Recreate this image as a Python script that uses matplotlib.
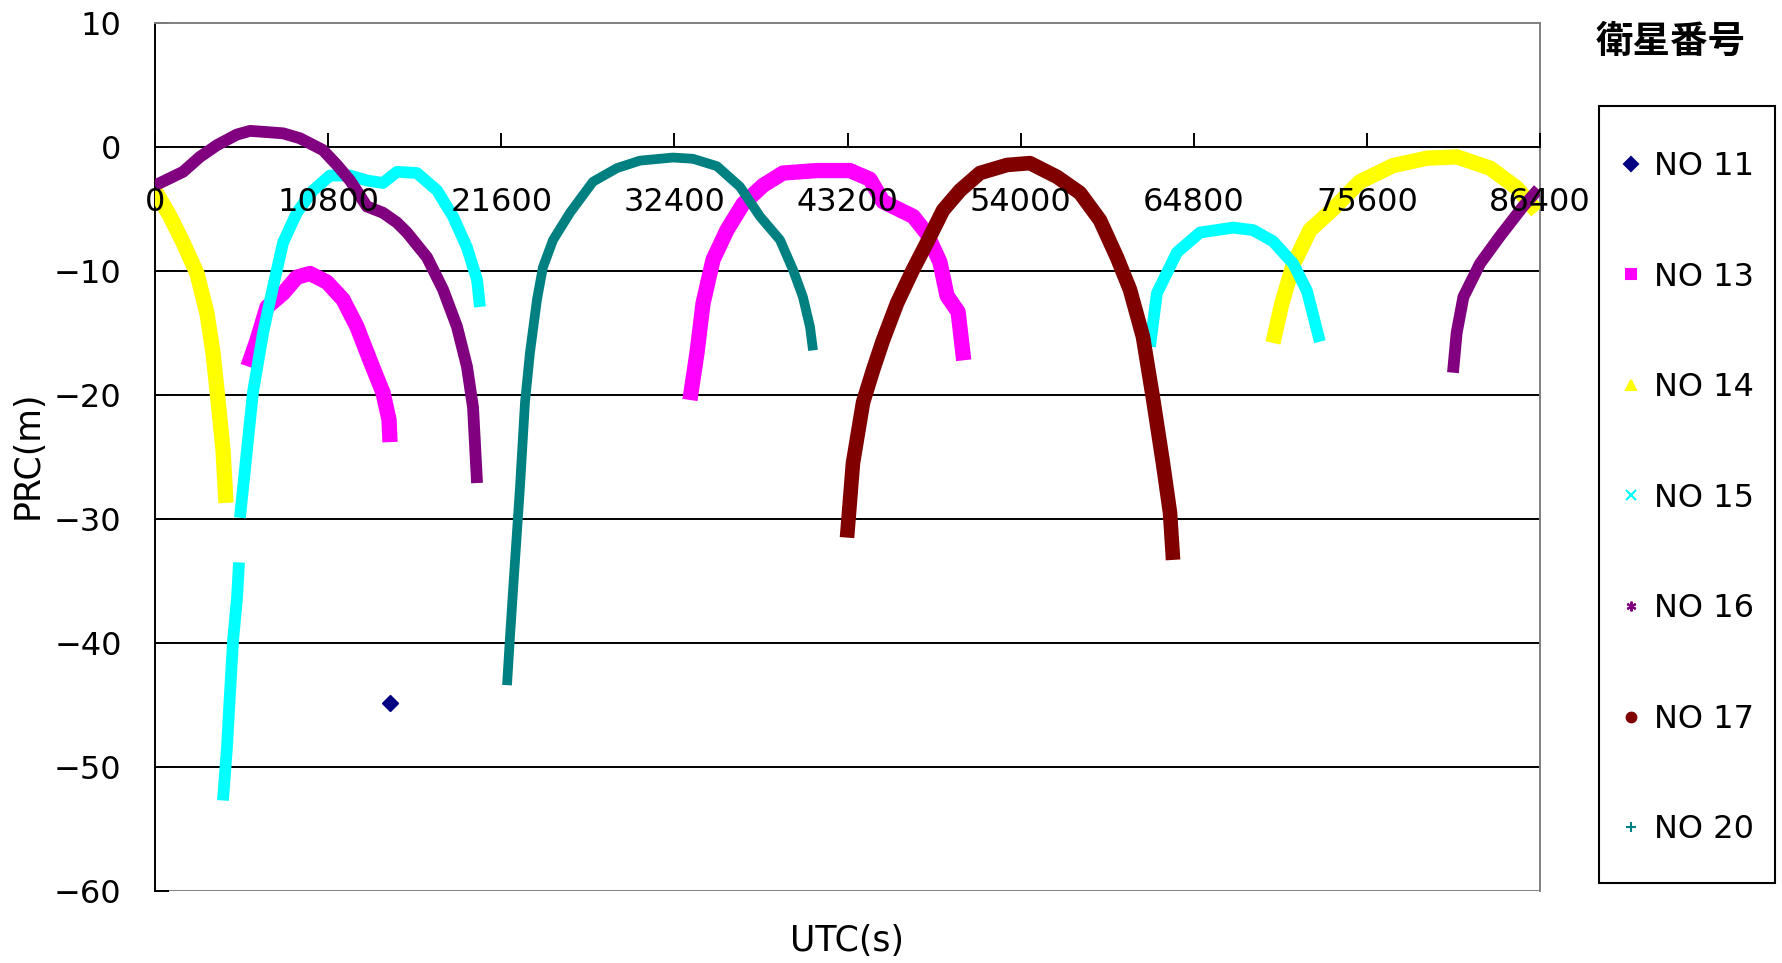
import matplotlib
matplotlib.use('Agg')
import matplotlib.pyplot as plt
from matplotlib.lines import Line2D
from matplotlib.patches import Rectangle

plt.rcParams['font.family'] = ['DejaVu Sans', 'Noto Sans CJK JP']

# UTC (s) / PRC (m) along each satellite pass
sat_ids = ['NO 11', 'NO 13', 'NO 14', 'NO 15', 'NO 16', 'NO 17', 'NO 20']
colors = ['#000080', '#FF00FF', '#FFFF00', '#00FFFF', '#800080', '#800000', '#008080']
markers = ['D', 's', '^', 'x', (6, 2, 0), 'o', '+']

no11_t = [14660]
no11_prc = [-44.8]

no13_p1_t = [5800, 6360, 6990, 7990, 8850, 9670, 10730, 11730, 12600, 13410, 14220, 14600, 14660]
no13_p1_prc = [-17.7, -15.6, -12.9, -11.8, -10.5, -10.2, -10.9, -12.3, -14.5, -17.2, -19.8, -22.0, -23.8]
no13_p2_t = [33370, 33810, 34190, 34810, 35680, 36680, 37930, 39170, 41300, 43350, 44600, 45410,
             47300, 48160, 48970, 49410, 50100, 50450]
no13_p2_prc = [-20.4, -16.6, -12.6, -9.1, -6.7, -4.6, -3.1, -2.1, -1.9, -1.9, -2.6, -4.4,
               -5.6, -7.0, -9.3, -12.0, -13.3, -17.2]

no14_p1_t = [0, 940, 1750, 2620, 3240, 3620, 3930, 4240, 4430]
no14_p1_prc = [-3.5, -5.6, -7.7, -10.2, -13.4, -16.6, -20.4, -24.4, -28.7]
no14_p2_t = [69740, 70300, 71000, 72050, 73490, 75170, 77230, 79350, 81220, 83280, 84960, 86210]
no14_p2_prc = [-15.8, -12.6, -9.5, -6.7, -5.0, -2.8, -1.5, -0.9, -0.8, -1.7, -3.3, -5.2]

no15_p1a_t = [4240, 4490, 4680, 4870, 5120, 5240]
no15_p1a_prc = [-52.7, -48.4, -44.0, -39.8, -36.3, -33.5]
no15_p1b_t = [5300, 5740, 6110, 6740, 7360, 7990, 8850, 9860, 10920, 12170, 13220, 14220,
              15100, 16340, 17590, 18590, 19460, 20090, 20270]
no15_p1b_prc = [-29.9, -24.4, -19.8, -15.0, -11.3, -7.7, -5.3, -3.5, -2.3, -2.3, -2.7, -2.9,
                -2.0, -2.1, -3.5, -5.6, -8.1, -10.7, -12.9]
no15_p2_t = [62070, 62500, 63750, 65190, 67250, 68500, 69740, 71000, 71860, 72670]
no15_p2_prc = [-16.1, -11.8, -8.5, -6.9, -6.5, -6.7, -7.6, -9.4, -11.6, -15.7]

no16_p1_t = [0, 1750, 2800, 3870, 5100, 5930, 7000, 8000, 9050, 10480, 11350, 12170, 13220,
             14220, 15100, 15720, 16970, 17970, 18840, 19460, 19840, 20090]
no16_p1_prc = [-3.1, -2.0, -0.8, 0.15, 1.0, 1.3, 1.2, 1.1, 0.7, -0.25, -1.45, -2.7, -4.8,
               -5.3, -6.1, -6.9, -8.9, -11.5, -14.5, -17.7, -21.0, -27.1]
no16_p2_t = [80970, 81200, 81620, 82660, 83900, 85340, 86300]
no16_p2_prc = [-18.2, -15.0, -12.1, -9.4, -7.2, -4.8, -3.4]

no17_t = [43170, 43540, 44170, 44790, 45410, 46290, 47280, 48160, 49160, 50220, 51460, 53150,
          54580, 56260, 57700, 58950, 60010, 60820, 61630, 62250, 62880, 63320, 63510]
no17_prc = [-31.5, -25.5, -20.6, -18.0, -15.6, -12.6, -9.9, -7.7, -5.1, -3.5, -2.1, -1.45,
            -1.3, -2.4, -3.7, -5.9, -8.9, -11.5, -15.3, -20.2, -25.5, -29.5, -33.3]

no20_t = [21960, 22150, 22400, 22770, 23080, 23390, 23830, 24200, 24830, 25890, 27320, 28820,
          30250, 32310, 33560, 35060, 36490, 37740, 38990, 39800, 40420, 40860, 41050]
no20_prc = [-43.4, -39.4, -34.5, -27.4, -20.6, -16.6, -12.3, -9.7, -7.5, -5.3, -2.8, -1.7,
            -1.1, -0.85, -0.95, -1.55, -3.2, -5.6, -7.5, -9.9, -12.1, -14.5, -16.4]

passes = {
    'NO 13': [(no13_p1_t, no13_p1_prc), (no13_p2_t, no13_p2_prc)],
    'NO 14': [(no14_p1_t, no14_p1_prc), (no14_p2_t, no14_p2_prc)],
    'NO 15': [(no15_p1a_t, no15_p1a_prc), (no15_p1b_t, no15_p1b_prc), (no15_p2_t, no15_p2_prc)],
    'NO 16': [(no16_p1_t, no16_p1_prc), (no16_p2_t, no16_p2_prc)],
    'NO 17': [(no17_t, no17_prc)],
    'NO 20': [(no20_t, no20_prc)],
}
band_width = {'NO 13': 11, 'NO 14': 11, 'NO 15': 8.5, 'NO 16': 8.5, 'NO 17': 10.5, 'NO 20': 7}

x_ticks = [0, 10800, 21600, 32400, 43200, 54000, 64800, 75600, 86400]
y_ticks = [-60, -50, -40, -30, -20, -10, 0, 10]

W, H = 1782, 963
fig = plt.figure(figsize=(W / 100, H / 100), dpi=100)
ax = fig.add_axes([155 / W, 1 - 891 / H, (1540 - 155) / W, (891 - 23) / H])

ax.set_xlim(0, 86400)
ax.set_ylim(-60, 10)

for y in y_ticks[1:-2]:
    ax.axhline(y, color='black', lw=1.4, zorder=1)
ax.axhline(-60, color='#808080', lw=1.4, zorder=1)

# dense scatter passes drawn as thick bands, later satellites on top
for i, sid in enumerate(sat_ids):
    if sid == 'NO 11':
        ax.plot(no11_t, no11_prc, linestyle='none', marker='D', ms=8,
                color=colors[i], zorder=2 + i)
        continue
    for t, prc in passes[sid]:
        ax.plot(t, prc, color=colors[i], lw=band_width[sid],
                solid_capstyle='butt', solid_joinstyle='round', zorder=2 + i)

ax.spines['bottom'].set_position(('data', 0))
ax.spines['bottom'].set_color('black')
ax.spines['bottom'].set_linewidth(1.4)
ax.spines['left'].set_linewidth(1.4)
for s in ['top', 'right']:
    ax.spines[s].set_color('#808080')
    ax.spines[s].set_linewidth(1.4)

ax.set_xticks(x_ticks)
ax.set_yticks(y_ticks)
ax.set_yticklabels([str(v).replace('-', '\u2212') for v in y_ticks])
ax.tick_params(axis='x', direction='in', length=10, width=1.4, pad=29, labelsize=23)
ax.tick_params(axis='y', direction='in', length=10, width=1.4, pad=24, labelsize=23)
# time labels sit inside the plot, print them over the bands
ax.xaxis.set_zorder(20)

fig.text(847 / W, 1 - 941 / H, 'UTC(s)', ha='center', va='center', fontsize=25)
fig.text(28 / W, 1 - 455 / H, 'PRC(m)', ha='center', va='center', fontsize=25, rotation=90)

# legend with its own box and title
fig.text(1671 / W, 1 - 43 / H, '衛星番号', ha='center', va='center', fontsize=27, weight='bold')
fig.patches.append(Rectangle((1599 / W, 1 - 883 / H), (1775 - 1599) / W, (883 - 106) / H,
                             transform=fig.transFigure, fill=False, edgecolor='black', lw=1.5))
handles = [Line2D([], [], color=c, marker=m, linestyle='none', markersize=7, markeredgewidth=1.5)
           for c, m in zip(colors, markers)]
fig.legend(handles, sat_ids, loc='upper left', bbox_to_anchor=(1620 / W, 1 - 151 / H),
           frameon=False, fontsize=23, borderpad=0, borderaxespad=0, handlelength=0.7,
           handletextpad=0.35, labelspacing=2.49)

fig.savefig('out.png', dpi=100)
